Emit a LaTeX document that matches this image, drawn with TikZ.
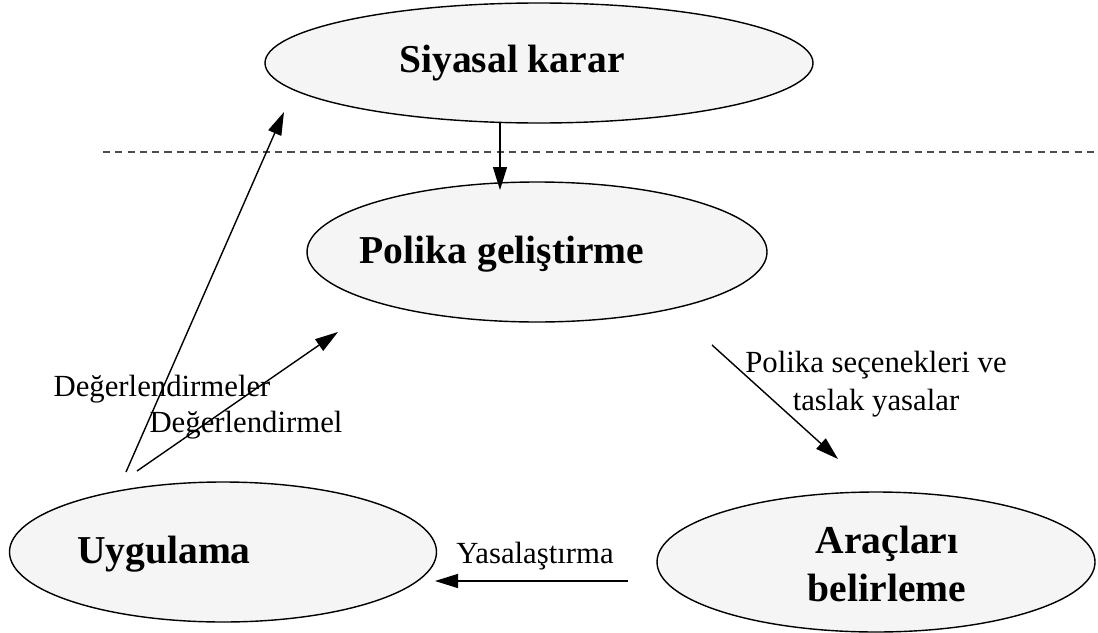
\documentclass[tikz,border=0pt]{standalone}
\usepackage{fontspec}
\setmainfont{Liberation Serif}
\usetikzlibrary{shapes.geometric,arrows.meta,positioning}

\begin{document}
\begin{tikzpicture}[
  x=0.02cm, y=-0.02cm,
  blob/.style={ellipse, draw=black, thick, fill=black!4, inner sep=0pt},
  head/.style={font=\fontsize{22.5}{27}\selectfont\bfseries, align=center, inner sep=0pt},
  note/.style={font=\fontsize{17.5}{21.5}\selectfont, align=center, inner sep=0pt},
  arr/.style={-{Triangle[length=0.46cm, width=0.28cm]}, line width=0.8pt},
  sep/.style={dashed, dash pattern=on 4pt off 3pt, draw=black!70, line width=0.6pt}
]
\useasboundingbox (0,0) rectangle (1098,632);

%% ---- DIVIDER ----
\coordinate (sepL) at (103,152);
\coordinate (sepR) at (1098,152);
\draw[sep] (sepL) -- (sepR);

%% ---- ELLIPSES ----
\node[blob, minimum width=548*0.02cm, minimum height=120*0.02cm] (siyasal) at (539,63) {};
\node[head] (siyasalT) at (512,63) {Siyasal karar};

\node[blob, minimum width=460*0.02cm, minimum height=140*0.02cm] (polika) at (537,252) {};
\node[head] (polikaT) at (502,254) {Polika geliştirme};

\node[blob, minimum width=427*0.02cm, minimum height=140*0.02cm] (uyg) at (223,552) {};
\node[head] (uygT) at (164,554) {Uygulama};

\node[blob, minimum width=438*0.02cm, minimum height=140*0.02cm] (arac) at (876,562) {};
\node[head] (aracT) at (887,564) {Araçları\\belirleme};

%% ---- ARROW ENDS ----
\coordinate (a1s) at (500,122);  \coordinate (a1e) at (500,190);
\coordinate (a2s) at (126,472);  \coordinate (a2e) at (284,112);
\coordinate (a3s) at (137,471);  \coordinate (a3e) at (338,332);
\coordinate (a4s) at (712,345);  \coordinate (a4e) at (838,459);
\coordinate (a5s) at (628,581);  \coordinate (a5e) at (435,581);

\draw[arr] (a1s) -- (a1e);
\draw[arr] (a2s) -- (a2e);
\draw[arr] (a3s) -- (a3e);
\draw[arr] (a4s) -- (a4e);
\draw[arr] (a5s) -- (a5e);

%% ---- LABELS ----
\node[note] (lblA) at (162,389) {Değerlendirmeler};
\node[note] (lblB) at (246,425) {Değerlendirmel};
\node[note] (lblC) at (876,384) {Polika seçenekleri ve\\taslak yasalar};
\node[note] (lblD) at (535,556) {Yasalaştırma};

\end{tikzpicture}
\end{document}
